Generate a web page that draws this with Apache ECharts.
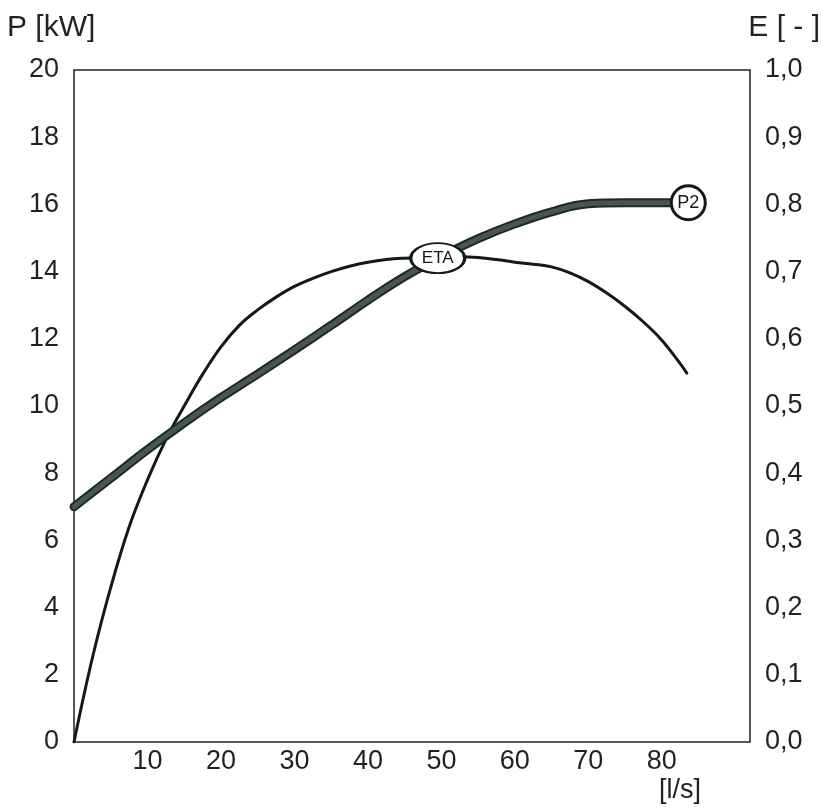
<!DOCTYPE html>
<html>
<head>
<meta charset="utf-8">
<script src="https://cdn.jsdelivr.net/npm/echarts@6/dist/echarts.min.js"></script>
<style>
  html, body { margin: 0; padding: 0; background: #fff; }
  #main { width: 824px; height: 809px; }
</style>
</head>
<body>
<div id="main"></div>
<script>
const myChart = echarts.init(document.getElementById('main'));

// flow [l/s] vs shaft power P2 [kW]
const p2Flow = [0, 5, 10, 15, 20, 25, 30, 35, 40, 45, 50, 55, 60, 65, 70, 75, 80, 83.5];
const p2Power = [7.0, 7.85, 8.7, 9.5, 10.25, 10.95, 11.67, 12.4, 13.15, 13.85, 14.45, 14.98, 15.42, 15.78, 16.02, 16.05, 16.05, 16.05];

// flow [l/s] vs efficiency ETA [-]
const etaFlow = [0, 2.5, 5, 7.5, 10, 12.5, 15, 17.5, 20, 22.5, 25, 27.5, 30, 32.5, 35, 37.5, 40, 42.5,
  45, 47.5, 50, 52.5, 55, 57.5, 60, 62.5, 65, 67.5, 70, 72.5, 75, 77.5, 80, 82.5, 83.4];
const etaValue = [0, 0.125, 0.23, 0.32, 0.39, 0.45, 0.5, 0.547, 0.588, 0.62, 0.643, 0.662, 0.678, 0.69, 0.7, 0.708, 0.714, 0.718,
  0.72, 0.721, 0.722, 0.722, 0.721, 0.718, 0.714, 0.711, 0.707, 0.698, 0.685, 0.668, 0.648, 0.625, 0.598, 0.563, 0.549];

const xTickLabels = [10, 20, 30, 40, 50, 60, 70, 80];
const etaLabelAt = [49.5, 0.72];
const p2LabelAt = [83.6, 16.05];

const font = 'Liberation Sans, Arial, sans-serif';
const ink = '#1c2322';

const pairs = (xs, ys) => xs.map((x, i) => [x, ys[i]]);

const tickLabel = {
  fontFamily: font,
  fontSize: 27,
  color: ink,
};

myChart.setOption({
  animation: false,
  grid: {
    left: 74,
    right: 74,
    top: 70,
    bottom: 67,
    show: true,
    borderColor: ink,
    borderWidth: 1.5,
  },
  xAxis: {
    type: 'value',
    min: 0,
    max: 92,
    interval: 10,
    splitLine: { show: false },
    axisLine: { show: false },
    axisTick: { show: false },
    axisLabel: {
      ...tickLabel,
      margin: 6,
      showMinLabel: false,
      showMaxLabel: false,
      formatter: (v) => (xTickLabels.includes(v) ? String(v) : ''),
    },
  },
  yAxis: [
    {
      type: 'value',
      min: 0,
      max: 20,
      interval: 2,
      splitLine: { show: false },
      axisLine: { show: false },
      axisTick: { show: false },
      axisLabel: { ...tickLabel, margin: 15 },
    },
    {
      type: 'value',
      min: 0,
      max: 1,
      interval: 0.1,
      position: 'right',
      splitLine: { show: false },
      axisLine: { show: false },
      axisTick: { show: false },
      axisLabel: {
        ...tickLabel,
        margin: 15,
        formatter: (v) => v.toFixed(1).replace('.', ','),
      },
    },
  ],
  graphic: [
    {
      type: 'text', left: 7, top: 13,
      style: { text: 'P [kW]', font: '30px ' + font, fill: ink },
    },
    {
      type: 'text', right: 4, top: 13,
      style: { text: 'E [ - ]', font: '30px ' + font, fill: ink },
    },
    {
      type: 'text', left: 659, top: 777,
      style: { text: '[l/s]', font: '27px ' + font, fill: ink },
    },
  ],
  series: [
    {
      name: 'ETA',
      type: 'line',
      yAxisIndex: 1,
      smooth: 0.4,
      showSymbol: false,
      z: 3,
      lineStyle: { color: '#141817', width: 3, cap: 'round' },
      data: pairs(etaFlow, etaValue),
      markPoint: {
        z: 10,
        symbol: 'path://M0,15 A26,15 0 1,1 52,15 A26,15 0 1,1 0,15 Z',
        symbolSize: [54, 30],
        itemStyle: { color: '#fff', borderColor: '#141817', borderWidth: 2.5 },
        label: { show: true, position: 'inside', color: '#141817', fontFamily: font, fontSize: 17 },
        data: [{ coord: etaLabelAt, value: 'ETA' }],
      },
    },
    {
      name: 'P2 outline',
      type: 'line',
      smooth: 0.4,
      showSymbol: false,
      z: 4,
      lineStyle: { color: '#1e2826', width: 9, cap: 'round' },
      data: pairs(p2Flow, p2Power),
    },
    {
      name: 'P2',
      type: 'line',
      smooth: 0.4,
      showSymbol: false,
      z: 5,
      lineStyle: { color: '#46574f', width: 5, cap: 'round' },
      data: pairs(p2Flow, p2Power),
      markPoint: {
        z: 10,
        symbol: 'circle',
        symbolSize: 34,
        itemStyle: { color: '#fff', borderColor: '#141817', borderWidth: 3 },
        label: { show: true, position: 'inside', color: '#141817', fontFamily: font, fontSize: 18 },
        data: [{ coord: p2LabelAt, value: 'P2' }],
      },
    },
  ],
});
</script>
</body>
</html>
